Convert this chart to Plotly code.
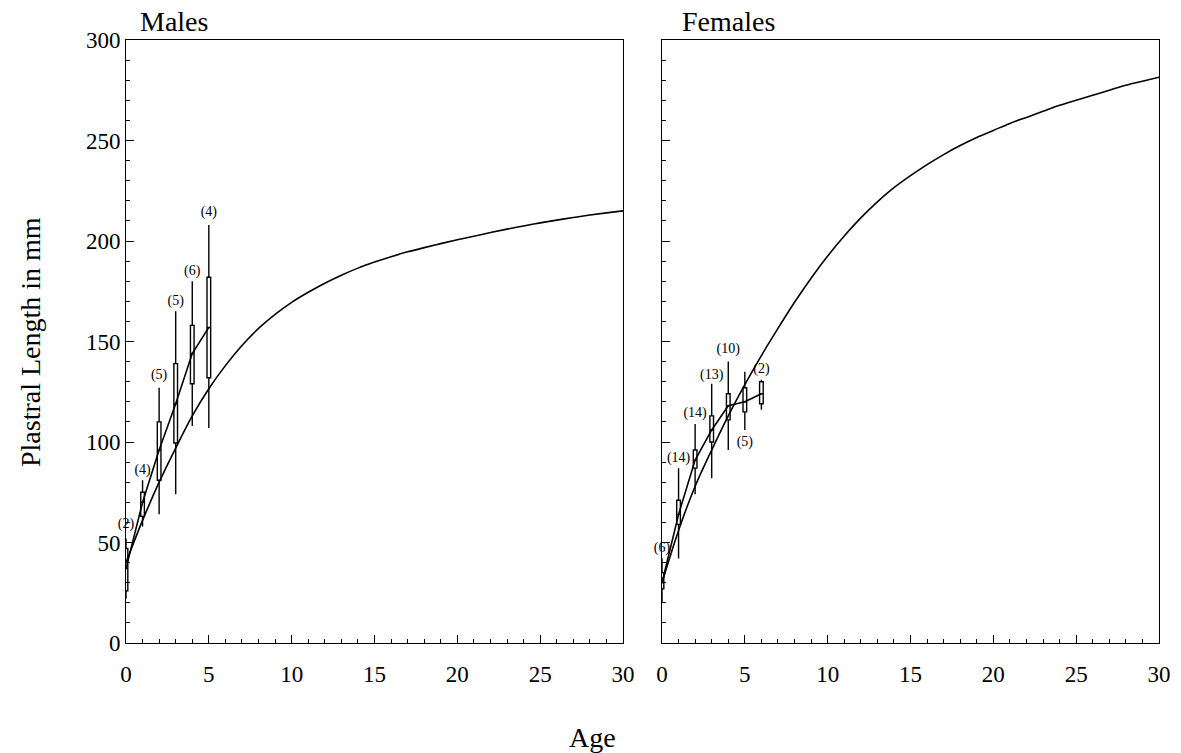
import plotly.graph_objects as go

# ---------------- data ----------------
male_ages = [0, 1, 2, 3, 4, 5]
male_q1 = [26, 63, 81, 99.5, 129, 132]
male_median = [37, 70, 96, 119, 144, 157]
male_q3 = [47, 75, 110, 139, 158, 182]
male_low = [22, 58, 64, 74, 108, 107]
male_high = [52, 81, 127, 165, 180, 208]
male_n = ["(2)", "(4)", "(5)", "(5)", "(6)", "(4)"]
male_n_y = [59, 86, 133, 170, 185, 214]

curve_age = list(range(0, 31))
male_curve_len = [40, 61, 80, 97, 113, 126.5, 138, 148, 156.5, 163.5, 169.5, 174.5, 179, 183, 186.5,
                  189.5, 192.2, 194.6, 196.7, 198.7, 200.6, 202.4, 204.2, 205.9, 207.5, 209, 210.4, 211.7,
                  212.9, 214, 215]

female_ages = [0, 1, 2, 3, 4, 5, 6]
female_q1 = [27, 59, 87, 100, 111, 115, 119]
female_median = [30, 64, 91, 106, 118, 120, 124]
female_q3 = [35, 71, 96, 113, 124, 127, 130]
female_low = [20, 42, 74, 82, 96, 106, 116]
female_high = [42, 87, 109, 129, 140, 135, 131]
female_n = ["(6)", "(14)", "(14)", "(13)", "(10)", "(5)", "(2)"]
female_n_y = [47, 92, 114, 133, 146, 100, 136]

female_curve_len = [30, 56, 78, 96, 113, 128.5, 143, 156.5, 169.5, 181.5, 192.5, 202.5, 211.5, 219.5, 226.5,
                    232.5, 238, 243, 247.5, 251.5, 255, 258.5, 261.5, 264.5, 267.5, 270, 272.5, 275,
                    277.5, 279.5, 281.5]

x_ticks = [0, 5, 10, 15, 20, 25, 30]
y_ticks = [0, 50, 100, 150, 200, 250, 300]

FONT = "Liberation Serif, Times New Roman, serif"

fig = go.Figure()

panels = [
    ("x", "y", male_ages, male_q1, male_median, male_q3, male_low, male_high,
     male_n, male_n_y, curve_age, male_curve_len),
    ("x2", "y2", female_ages, female_q1, female_median, female_q3, female_low, female_high,
     female_n, female_n_y, curve_age, female_curve_len),
]

for xa, ya, ages, q1, med, q3, lo, hi, n, ny, cx, cy in panels:
    fig.add_trace(go.Scatter(x=cx, y=cy, mode="lines",
                             line=dict(color="black", width=1.6, shape="spline", smoothing=1.0),
                             xaxis=xa, yaxis=ya, hoverinfo="skip"))
    fig.add_trace(go.Scatter(x=ages, y=med, mode="lines", line=dict(color="black", width=1.6),
                             xaxis=xa, yaxis=ya, hoverinfo="skip"))
    fig.add_trace(go.Box(x=ages, q1=q1, median=med, q3=q3, lowerfence=lo, upperfence=hi,
                         orientation="v", boxpoints=False, width=0.22, whiskerwidth=0,
                         fillcolor="white", line=dict(color="black", width=1.4),
                         xaxis=xa, yaxis=ya))
    fig.add_trace(go.Scatter(x=ages, y=ny, mode="text", text=n, cliponaxis=False,
                             textfont=dict(family=FONT, size=14, color="black"),
                             xaxis=xa, yaxis=ya, hoverinfo="skip"))

W, H = 1181, 753
x1d = [126 / W, 623 / W]
x2d = [662 / W, 1159 / W]
yd = [(H - 643) / H, (H - 40) / H]

axis_common = dict(
    showline=True, mirror=True, linecolor="black", linewidth=1,
    ticks="inside", ticklen=8, tickcolor="black", tickwidth=1,
    showgrid=False, zeroline=False, automargin=False,
    tickfont=dict(family=FONT, size=23, color="black"),
)

fig.update_layout(
    width=W, height=H,
    margin=dict(l=0, r=0, t=0, b=0),
    paper_bgcolor="white", plot_bgcolor="white",
    showlegend=False,
    xaxis=dict(domain=x1d, range=[0, 30], tickvals=x_ticks, ticklabelstandoff=10,
               minor=dict(ticks="inside", dtick=1, ticklen=4, tickcolor="black"), anchor="y", **axis_common),
    yaxis=dict(domain=yd, range=[0, 300], tickvals=y_ticks, ticklabelstandoff=0,
               minor=dict(ticks="inside", dtick=10, ticklen=4, tickcolor="black"), anchor="x", **axis_common),
    xaxis2=dict(domain=x2d, range=[0, 30], tickvals=x_ticks, ticklabelstandoff=10,
                minor=dict(ticks="inside", dtick=1, ticklen=4, tickcolor="black"), anchor="y2", **axis_common),
    yaxis2=dict(domain=yd, range=[0, 300], tickvals=y_ticks, showticklabels=False,
                minor=dict(ticks="inside", dtick=10, ticklen=4, tickcolor="black"), anchor="x2", **axis_common),
    annotations=[
        dict(text="Males", x=138 / W, y=1 - 22 / H, xref="paper", yref="paper", xanchor="left", yanchor="middle",
             showarrow=False, font=dict(family=FONT, size=28, color="black")),
        dict(text="Females", x=680 / W, y=1 - 22 / H, xref="paper", yref="paper", xanchor="left", yanchor="middle",
             showarrow=False, font=dict(family=FONT, size=28, color="black")),
        dict(text="Plastral Length in mm", x=30 / W, y=1 - 342 / H, xref="paper", yref="paper",
             xanchor="center", yanchor="middle", textangle=-90,
             showarrow=False, font=dict(family=FONT, size=28, color="black")),
        dict(text="Age", x=592 / W, y=1 - 737 / H, xref="paper", yref="paper", xanchor="center", yanchor="middle",
             showarrow=False, font=dict(family=FONT, size=28, color="black")),
    ],
)

fig.write_html("out.html", config={"displayModeBar": False},
               post_script="document.body.style.margin='0';document.body.style.overflow='hidden';")
